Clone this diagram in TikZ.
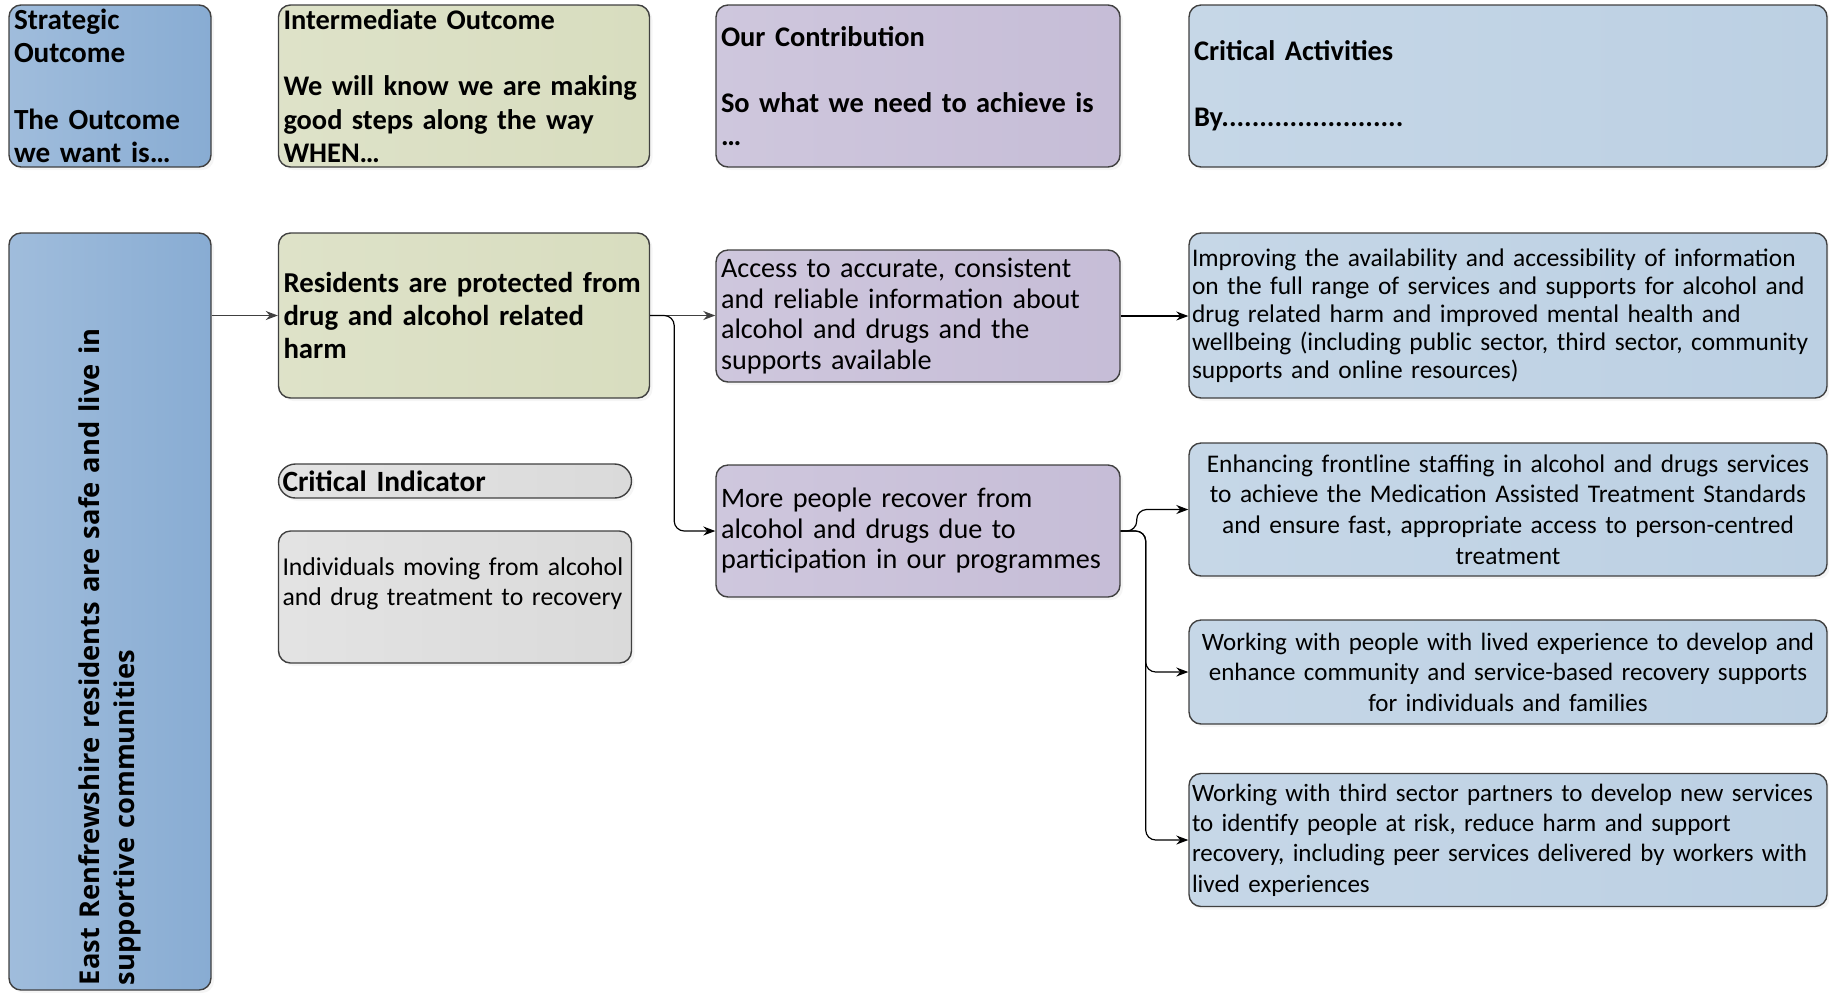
\documentclass[tikz,border=0pt]{standalone}
\usepackage{fontspec}
\setmainfont{Carlito}
\newfontfamily\widesans{Open Sans}
\usepackage{tikz}
\usetikzlibrary{positioning, arrows.meta, shadows}

\definecolor{stratblue}{RGB}{136, 172, 211}
\definecolor{interlime}{RGB}{216, 221, 191}
\definecolor{contrililac}{RGB}{198, 189, 215}
\definecolor{actblue}{RGB}{188, 208, 227}
\definecolor{indgrey}{RGB}{218, 218, 218}
\definecolor{edgegrey}{RGB}{64, 64, 64}

\newcommand{\headfont}{\fontsize{14.2}{16.6}\selectfont\bfseries}
\newcommand{\bodyfont}{\fontsize{12.5}{15.2}\selectfont}
\newcommand{\bigbodyfont}{\fontsize{14.1}{15.2}\selectfont}

\tikzset{
    boxnode/.style = {draw=edgegrey, rectangle, rounded corners=6pt, line width=0.7pt, 
      inner xsep=2.5pt, inner ysep=1pt, node distance=0em, 
      drop shadow={shadow xshift=1.5pt, shadow yshift=-1.5pt, opacity=0.08}},
    headnode/.style = {boxnode, font=\headfont, align=left, minimum height=81pt, inner ysep=0.5pt},
    col1/.style = {text width=96pt},
    col2/.style = {text width=180.5pt},
    col3/.style = {text width=197pt},
    col4/.style = {text width=316pt, inner xsep=1.5pt},
    indwidth/.style = {text width=172.5pt, inner xsep=2pt},
    stratfill/.style = {left color=stratblue!80!white, right color=stratblue},
    interfill/.style = {left color=interlime!85!white, right color=interlime},
    contrifill/.style = {left color=contrililac!85!white, right color=contrililac},
    actfill/.style = {left color=actblue!85!white, right color=actblue},
    greyfill/.style = {left color=indgrey!75!white, right color=indgrey},
    connect/.style = {edgegrey, line width=0.6pt, -{Stealth[length=6pt, width=4.5pt]}},
    branch/.style = {connect, black, rounded corners=5pt}
}

\begin{document}
\begin{tikzpicture}
\useasboundingbox (0pt,0pt) rectangle (914.5pt,-496pt);

% header row
\node[headnode, col1, stratfill, name=stratH, font=\fontsize{14.6}{16.6}\selectfont\bfseries] at (55pt,-43pt) 
	{Strategic\\Outcome\\~\\The Outcome\\we want is…};
\node[headnode, col2, interfill, name=interH, right of = stratH, xshift=177pt] 
	{Intermediate Outcome\\~\\We will know we are making\\good steps along the way\\WHEN…};
\node[headnode, col3, contrifill, name=contribH, right of = interH, xshift=227pt] 
	{Our Contribution\\~\\So what we need to achieve is\\…};
\node[headnode, col4, actfill, name=activH, right of = contribH, xshift=295pt, inner xsep=2.5pt, text width=314pt] 
	{Critical Activities\\~\\By........................};

% strategic outcome
\node[boxnode, stratfill, name=strat, below of = stratH, yshift=-262.75pt, rotate=90, 
	minimum width=378.5pt, minimum height=101pt, text width=373.5pt, align=left, 
	font=\widesans\fontsize{13.65}{17.5}\selectfont\bfseries] 
	{East Renfrewshire residents are safe and live in\\supportive communities};

% intermediate outcome and indicator
\node[boxnode, col2, interfill, name=harm, below of = interH, yshift=-114.75pt, 
	minimum height=82.5pt, align=left, font=\fontsize{14.4}{16.6}\selectfont\bfseries] 
	{Residents are protected from\\drug and alcohol related\\harm};
\node[boxnode, indwidth, greyfill, name=indhead, below of = harm, yshift=-82.75pt, xshift=-4.5pt, 
	rounded corners=8.5pt, minimum height=17pt, inner ysep=0pt, align=left, 
	font=\fontsize{14.7}{16.6}\selectfont\bfseries] 
	{Critical Indicator};
\node[boxnode, indwidth, greyfill, name=indbox, below of = indhead, yshift=-58pt, 
	minimum height=66pt, align=left, font=\fontsize{12.85}{15.2}\selectfont] 
	{Individuals moving from alcohol\\and drug treatment to recovery\\~};

% contribution
\node[boxnode, col3, contrifill, name=access, below of = contribH, yshift=-115pt, 
	minimum height=66pt, align=left, font=\bigbodyfont] 
	{Access to accurate, consistent\\and reliable information about\\alcohol and drugs and the\\supports available};
\node[boxnode, col3, contrifill, name=recover, below of = access, yshift=-107.5pt, 
	minimum height=66pt, align=left, font=\bigbodyfont] 
	{More people recover from\\alcohol and drugs due to\\participation in our programmes};

% critical activities
\node[boxnode, col4, actfill, name=improve, below of = activH, yshift=-114.75pt, 
	minimum height=82.5pt, align=left, font=\fontsize{12.7}{14}\selectfont] 
	{Improving the availability and accessibility of information\\on the full range of services and supports for alcohol and\\drug related harm and improved mental health and\\wellbeing (including public sector, third sector, community\\supports and online resources)};
\node[boxnode, col4, actfill, name=staff, below of = improve, yshift=-97pt, 
	minimum height=66.5pt, align=center, font=\fontsize{12.7}{15.4}\selectfont] 
	{Enhancing frontline staffing in alcohol and drugs services\\to achieve the Medication Assisted Treatment Standards\\and ensure fast, appropriate access to person-centred\\treatment};
\node[boxnode, col4, actfill, name=lived, below of = staff, yshift=-81.25pt, 
	minimum height=52pt, align=center, font=\bodyfont] 
	{Working with people with lived experience to develop and\\enhance community and service-based recovery supports\\for individuals and families};
\node[boxnode, col4, actfill, name=third, below of = lived, yshift=-84pt, 
	minimum height=66.5pt, align=left, font=\bodyfont] 
	{Working with third sector partners to develop new services\\to identify people at risk, reduce harm and support\\recovery, including peer services delivered by workers with\\lived experiences};

% connectors
\draw[connect] (strat.south |- harm.west) -- (harm.west);
\draw[connect] (harm.east) -- (harm.east -| access.west);
\draw[branch] (harm.east) -- ++(12pt,0) |- (recover.west);
\draw[connect, black] (access.east) -- (access.east -| improve.west);
\draw[branch] (recover.east) -- ++(8pt,0) |- (staff.west);
\draw[branch] (recover.east) -- ++(12.5pt,0) |- (lived.west);
\draw[branch] (recover.east) -- ++(12.5pt,0) |- (third.west);
\end{tikzpicture}
\end{document}
